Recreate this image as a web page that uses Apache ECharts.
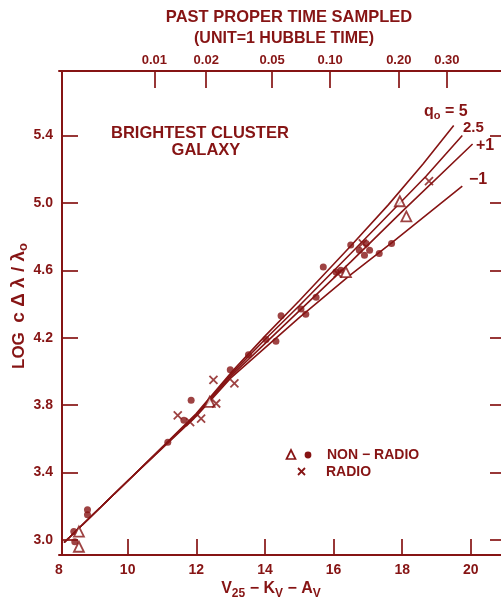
<!DOCTYPE html>
<html><head><meta charset="utf-8">
<script src="https://cdn.jsdelivr.net/npm/echarts@6/dist/echarts.min.js"></script>
<style>html,body{margin:0;padding:0;background:#fff}#c{width:501px;height:603px}</style>
</head><body><div id="c"></div>
<script>
const INK = '#861414';
const FONT = 'Liberation Sans';

// axis ticks / labels
const xTickValues = [8, 10, 12, 14, 16, 18, 20];
const yTickValues = [3.0, 3.4, 3.8, 4.2, 4.6, 5.0, 5.4];
const topTickPositions = [10.78, 12.29, 14.21, 15.9, 17.9, 19.3];
const topTickLabels = ['0.01', '0.02', '0.05', '0.10', '0.20', '0.30'];

// data: [V25-Kv-Av, log cΔλ/λ0]
const nonRadioDots = [
  [8.43, 3.05], [8.46, 2.99], [8.83, 3.18], [8.83, 3.15], [11.17, 3.58],
  [11.64, 3.71], [11.85, 3.83], [12.99, 4.01], [13.52, 4.10], [14.03, 4.19],
  [14.32, 4.18], [14.47, 4.33], [15.05, 4.37], [15.19, 4.34], [15.49, 4.44],
  [15.70, 4.62], [16.07, 4.59], [16.21, 4.60], [16.50, 4.75], [16.75, 4.72],
  [16.90, 4.69], [16.95, 4.76], [17.05, 4.72], [17.33, 4.70], [17.69, 4.76]
];
const nonRadioTriangles = [
  [8.58, 3.05], [8.58, 2.96], [12.39, 3.82], [16.36, 4.59], [17.93, 5.01], [18.12, 4.92]
];
const radioCrosses = [
  [11.46, 3.74], [11.82, 3.70], [12.14, 3.72], [12.50, 3.95], [12.58, 3.81],
  [13.11, 3.93], [16.12, 4.58], [16.85, 4.76], [18.78, 5.13]
];

// model curves (q0 = 5, 2.5, +1, -1)
const curveQ5   = [[8.15, 2.985], [10.0, 3.35], [12.0, 3.75], [13.0, 3.99], [14.0, 4.21], [15.0, 4.42], [16.5, 4.745], [17.6, 4.99], [18.6, 5.23], [19.5, 5.46]];
const curveQ2_5 = [[8.15, 2.985], [10.0, 3.35], [12.0, 3.745], [13.0, 3.98], [14.0, 4.19], [15.0, 4.39], [16.5, 4.70], [17.6, 4.93], [18.7, 5.16], [19.75, 5.40]];
const curveQ1   = [[8.15, 2.985], [10.0, 3.35], [12.0, 3.74], [13.0, 3.97], [14.0, 4.165], [15.0, 4.36], [16.5, 4.65], [18.0, 4.95], [20.05, 5.35]];
const curveQm1  = [[8.15, 2.985], [10.0, 3.35], [12.0, 3.735], [13.0, 3.96], [14.0, 4.14], [15.0, 4.32], [16.5, 4.575], [17.7, 4.765], [19.75, 5.10]];

const chart = echarts.init(document.getElementById('c'), null, {renderer: 'canvas'});

const lineSeries = (data) => ({
  type: 'line', data, showSymbol: false, symbol: 'none', silent: true,
  lineStyle: {color: INK, width: 1.6}, z: 2
});

const txt = (text, x, y, size, align) => ({
  type: 'text', x, y, silent: true,
  style: {text, fill: INK, font: `bold ${size}px "${FONT}"`, align: align || 'left', verticalAlign: 'middle'}
});

const lbl = (size) => ({color: INK, fontFamily: FONT, fontWeight: 'bold', fontSize: size});

chart.setOption({
  animation: false,
  backgroundColor: '#fff',
  grid: {left: 59, top: 71, width: 443, height: 484, containLabel: false},
  xAxis: [{
    type: 'value', position: 'bottom', min: 8, max: 8 + 443 / 34.4,
    axisLine: {show: true, lineStyle: {color: INK, width: 2}},
    axisTick: {show: true, inside: true, length: 16, lineStyle: {color: INK, width: 1.7}, customValues: xTickValues.slice(1)},
    axisLabel: Object.assign(lbl(14), {show: true, margin: 8, customValues: xTickValues, formatter: v => String(v)}),
    splitLine: {show: false}
  }, {
    type: 'value', position: 'top', min: 8, max: 8 + 443 / 34.4,
    axisLine: {show: true, lineStyle: {color: INK, width: 2}},
    axisTick: {show: true, inside: true, length: 17, lineStyle: {color: INK, width: 1.7}, customValues: topTickPositions},
    axisLabel: Object.assign(lbl(13), {show: true, margin: 4, customValues: topTickPositions,
      formatter: v => { const i = topTickPositions.findIndex(p => Math.abs(p - v) < 1e-6); return i >= 0 ? topTickLabels[i] : ''; }}),
    splitLine: {show: false}
  }],
  yAxis: [{
    type: 'value', position: 'left', offset: -3, min: 2.911, max: 5.783,
    axisLine: {show: true, lineStyle: {color: INK, width: 2}},
    axisTick: {show: true, inside: true, length: 16, lineStyle: {color: INK, width: 1.7}, customValues: yTickValues},
    axisLabel: Object.assign(lbl(14), {show: true, margin: 9, customValues: yTickValues, formatter: v => v.toFixed(1)}),
    splitLine: {show: false}
  }, {
    type: 'value', position: 'right', min: 2.911, max: 5.783,
    axisLine: {show: false},
    axisTick: {show: true, inside: true, length: 11, lineStyle: {color: INK, width: 1.7}, customValues: yTickValues},
    axisLabel: {show: false},
    splitLine: {show: false}
  }],
  series: [
    lineSeries(curveQ5), lineSeries(curveQ2_5), lineSeries(curveQ1), lineSeries(curveQm1),
    {type: 'scatter', data: nonRadioDots, symbol: 'circle', symbolSize: 7, itemStyle: {color: INK}, z: 3, silent: true},
    {type: 'scatter', data: nonRadioTriangles, symbol: 'triangle', symbolSize: 10,
      itemStyle: {color: '#fff', borderColor: INK, borderWidth: 1.8}, z: 4, silent: true},
    {type: 'scatter', data: radioCrosses, symbol: 'path://M0,0L10,10M10,0L0,10', symbolSize: 8,
      itemStyle: {color: 'rgba(0,0,0,0)', borderColor: INK, borderWidth: 1.8}, z: 4, silent: true}
  ],
  graphic: [
    txt('PAST PROPER TIME SAMPLED', 289, 17, 16.5, 'center'),
    txt('(UNIT=1 HUBBLE TIME)', 284, 39, 16, 'center'),
    txt('BRIGHTEST CLUSTER', 111, 133, 16.5, 'left'),
    txt('GALAXY', 206, 150, 16.5, 'center'),
    {type: 'text', x: 424, y: 112, silent: true, style: {
      text: '{a|q}{s|o}{a| = 5}', fill: INK, verticalAlign: 'middle',
      rich: {a: {fontFamily: FONT, fontWeight: 'bold', fontSize: 16, fill: INK}, s: {fontFamily: FONT, fontWeight: 'bold', fontSize: 11, fill: INK, padding: [8, 0, 0, 0]}}}},
    txt('2.5', 463, 128, 15, 'left'),
    txt('+1', 476, 146, 16, 'left'),
    txt('\u22121', 469, 180, 16, 'left'),
    {type: 'text', x: 19, y: 306, rotation: Math.PI / 2, silent: true, style: {
      text: '{a|LOG  }{b|c \u0394 \u03bb / \u03bb}{s|o}', fill: INK, align: 'center', verticalAlign: 'middle',
      rich: {a: {fontFamily: FONT, fontWeight: 'bold', fontSize: 17, fill: INK},
             b: {fontFamily: FONT, fontWeight: 'bold', fontSize: 19, fill: INK},
             s: {fontFamily: FONT, fontWeight: 'bold', fontSize: 13, fill: INK, padding: [9, 0, 0, 0]}}}},
    {type: 'text', x: 271, y: 589, silent: true, style: {
      text: '{a|V}{s|25}{a| \u2212 K}{s|V}{a| \u2212 A}{s|V}', fill: INK, align: 'center', verticalAlign: 'middle',
      rich: {a: {fontFamily: FONT, fontWeight: 'bold', fontSize: 16, fill: INK}, s: {fontFamily: FONT, fontWeight: 'bold', fontSize: 12, fill: INK, padding: [9, 0, 0, 0]}}}},
    // legend
    {type: 'polygon', silent: true, shape: {points: [[291, 450], [286.5, 459], [295.5, 459]]}, style: {fill: '#fff', stroke: INK, lineWidth: 1.7}},
    {type: 'circle', silent: true, shape: {cx: 308, cy: 455, r: 3.4}, style: {fill: INK}},
    txt('NON \u2212 RADIO', 327, 455, 14, 'left'),
    {type: 'polyline', silent: true, shape: {points: [[298, 468], [305, 475]]}, style: {stroke: INK, lineWidth: 1.8, fill: null}},
    {type: 'polyline', silent: true, shape: {points: [[305, 468], [298, 475]]}, style: {stroke: INK, lineWidth: 1.8, fill: null}},
    txt('RADIO', 326, 472, 14, 'left')
  ]
});
</script>
</body></html>
